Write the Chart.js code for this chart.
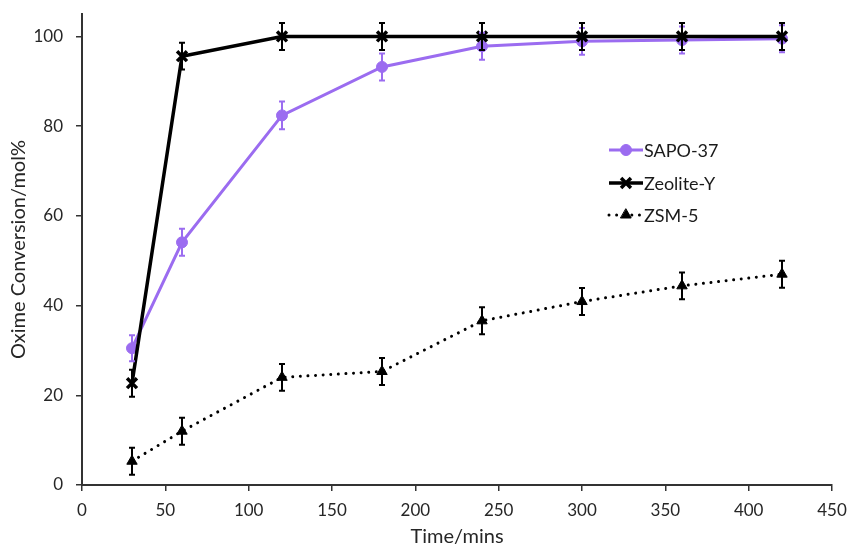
<!DOCTYPE html>
<html>
<head>
<meta charset="utf-8">
<script src="https://cdn.jsdelivr.net/npm/chart.js@4.4.1/dist/chart.umd.min.js"></script>
<style>
  html, body { margin: 0; padding: 0; background: #ffffff; }
  #wrap { width: 852px; height: 549px; }
</style>
</head>
<body>
<div id="wrap"><canvas id="c" width="852" height="549"></canvas></div>
<script>
// ---- data ----
const times = [30, 60, 120, 180, 240, 300, 360, 420];
const sapo37 = [30.5, 54.1, 82.4, 93.2, 97.8, 98.9, 99.2, 99.5];
const sapo37Err = [2.9, 3.0, 3.1, 3.0, 3.0, 3.0, 3.0, 3.0];
const zeoliteY = [22.7, 95.6, 100, 100, 100, 100, 100, 100];
const zeoliteYErr = [3.0, 3.0, 3.0, 3.0, 3.0, 3.0, 3.0, 3.0];
const zsm5 = [5.3, 12.0, 24.0, 25.3, 36.6, 40.9, 44.4, 47.0];
const zsm5Err = [3.0, 3.0, 3.0, 3.0, 3.0, 3.0, 3.0, 3.0];
const seriesNames = ['SAPO-37', 'Zeolite-Y', 'ZSM-5'];
const xTickValues = [0, 50, 100, 150, 200, 250, 300, 350, 400, 450];
const yTickValues = [0, 20, 40, 60, 80, 100];
const xTitle = 'Time/mins';
const yTitle = 'Oxime Conversion/mol%';

const toXY = (ys) => times.map((t, i) => ({ x: t, y: ys[i] }));
const FONT = 'Lato, "Liberation Sans", sans-serif';
const PURPLE = '#9b6cf0';

const errorBarPlugin = {
  id: 'errorBars',
  afterDatasetsDraw(chart) {
    const ctx = chart.ctx;
    const xs = chart.scales.x, ys = chart.scales.y;
    chart.data.datasets.forEach((ds) => {
      if (!ds.errors) return;
      ctx.save();
      ctx.strokeStyle = ds.errorColor;
      ctx.lineWidth = 2;
      ds.data.forEach((p, i) => {
        const e = ds.errors[i];
        const px = xs.getPixelForValue(p.x);
        const top = ys.getPixelForValue(p.y + e);
        const bot = ys.getPixelForValue(p.y - e);
        ctx.beginPath();
        ctx.moveTo(px, top); ctx.lineTo(px, bot);
        ctx.moveTo(px - 3, top); ctx.lineTo(px + 3, top);
        ctx.moveTo(px - 3, bot); ctx.lineTo(px + 3, bot);
        ctx.stroke();
      });
      ctx.restore();
    });
  }
};

const legendPlugin = {
  id: 'customLegend',
  afterDraw(chart) {
    const ctx = chart.ctx;
    const x0 = 609, len = 34, rowY = [150, 183, 215];
    [0, 1, 2].forEach((di, r) => {
      const ds = chart.data.datasets[di];
      const y = rowY[r];
      ctx.save();
      ctx.strokeStyle = ds.borderColor;
      ctx.lineWidth = ds.borderWidth;
      ctx.lineCap = ds.borderCapStyle || 'butt';
      ctx.setLineDash(ds.borderDash || []);
      ctx.beginPath();
      ctx.moveTo(x0, y); ctx.lineTo(x0 + len, y);
      ctx.stroke();
      ctx.setLineDash([]);
      ctx.fillStyle = ds.pointBackgroundColor;
      ctx.strokeStyle = ds.pointBorderColor;
      ctx.lineWidth = ds.pointBorderWidth;
      Chart.helpers.drawPoint(ctx, {
        pointStyle: ds.pointStyle, radius: ds.pointRadius, rotation: 0,
        borderWidth: ds.pointBorderWidth
      }, x0 + len / 2, y);
      ctx.fillStyle = '#1a1a1a';
      ctx.font = '18px ' + FONT;
      ctx.textBaseline = 'middle';
      ctx.textAlign = 'left';
      ctx.fillText(ds.label, x0 + len + 1, y + 1);
      ctx.restore();
    });
  }
};

new Chart(document.getElementById('c'), {
  type: 'line',
  data: {
    datasets: [
      {
        label: seriesNames[0], data: toXY(sapo37), errors: sapo37Err, errorColor: PURPLE,
        borderColor: PURPLE, borderWidth: 3, order: 2,
        pointStyle: 'circle', pointRadius: 5.5, pointBackgroundColor: PURPLE,
        pointBorderColor: PURPLE, pointBorderWidth: 1
      },
      {
        label: seriesNames[1], data: toXY(zeoliteY), errors: zeoliteYErr, errorColor: '#000',
        borderColor: '#000', borderWidth: 3.5, order: 1,
        pointStyle: 'crossRot', pointRadius: 7, pointBackgroundColor: '#000',
        pointBorderColor: '#000', pointBorderWidth: 3.5
      },
      {
        label: seriesNames[2], data: toXY(zsm5), errors: zsm5Err, errorColor: '#000',
        borderColor: '#000', borderWidth: 3, borderDash: [0.01, 7.6], borderCapStyle: 'round', order: 3,
        pointStyle: 'triangle', pointRadius: 6, pointBackgroundColor: '#000',
        pointBorderColor: '#000', pointBorderWidth: 1
      }
    ]
  },
  options: {
    responsive: false,
    animation: false,
    events: [],
    layout: { padding: { left: 0, top: 14, right: 20, bottom: 0 } },
    plugins: { legend: { display: false }, tooltip: { enabled: false } },
    scales: {
      x: {
        type: 'linear', min: 0, max: 450,
        afterBuildTicks: (s) => { s.ticks = xTickValues.map(v => ({ value: v })); },
        afterFit: (s) => { s.height = 64; s.paddingLeft = 0; s.paddingRight = 0; },
        grid: { display: true, drawOnChartArea: false, drawTicks: true, tickLength: 6, color: '#333', lineWidth: 1.5 },
        border: { display: true, color: '#333', width: 2 },
        ticks: { color: '#262626', font: { family: FONT, size: 17 }, padding: 9, maxRotation: 0 },
        title: { display: true, text: xTitle, color: '#262626', font: { family: FONT, size: 20 }, padding: { top: 0, bottom: 0 } }
      },
      y: {
        type: 'linear', min: 0, max: 105,
        afterBuildTicks: (s) => { s.ticks = yTickValues.map(v => ({ value: v })); },
        afterFit: (s) => { s.width = 82; s.paddingTop = 0; s.paddingBottom = 0; },
        grid: { display: true, drawOnChartArea: false, drawTicks: true, tickLength: 6, color: '#333', lineWidth: 1.5 },
        border: { display: true, color: '#333', width: 2 },
        ticks: { color: '#262626', font: { family: FONT, size: 17 }, padding: 13 },
        title: { display: true, text: yTitle, color: '#262626', font: { family: FONT, size: 20 }, padding: { top: 7, bottom: 0 } }
      }
    }
  },
  plugins: [errorBarPlugin, legendPlugin]
});
</script>
</body>
</html>
